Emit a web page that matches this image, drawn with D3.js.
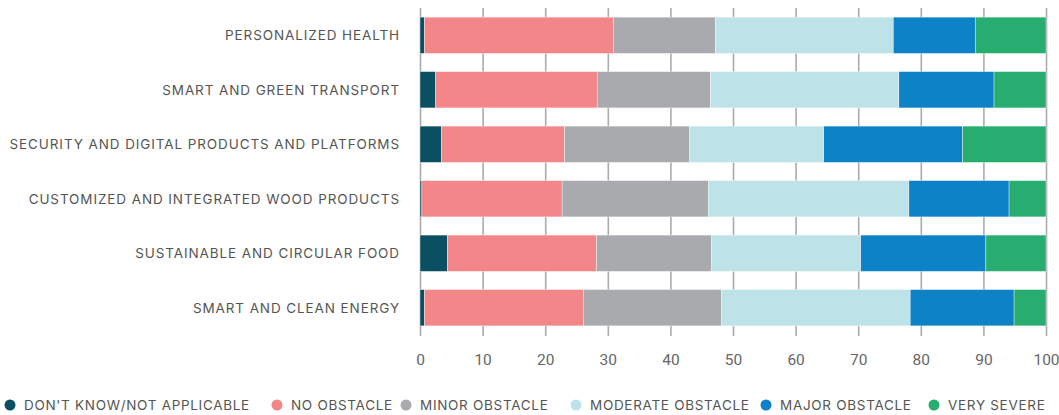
<!DOCTYPE html>
<html>
<head>
<meta charset="utf-8">
<script src="https://cdn.jsdelivr.net/npm/d3@7"></script>
<style>
  body { margin: 0; background: #fff; }
  text { font-family: "Inter", "Roboto", "Liberation Sans", sans-serif; }
</style>
</head>
<body>
<div id="chart"></div>
<script>
var categories = ["PERSONALIZED HEALTH", "SMART AND GREEN TRANSPORT", "SECURITY AND DIGITAL PRODUCTS AND PLATFORMS",
	"CUSTOMIZED AND INTEGRATED WOOD PRODUCTS", "SUSTAINABLE AND CIRCULAR FOOD", "SMART AND CLEAN ENERGY"];
var seriesNames = ["DON'T KNOW/NOT APPLICABLE", "NO OBSTACLE", "MINOR OBSTACLE", "MODERATE OBSTACLE", "MAJOR OBSTACLE", "VERY SEVERE"];
var dontKnow = [0.7, 2.5, 3.4, 0.3, 4.4, 0.7];
var noObstacle = [30.2, 25.8, 19.7, 22.4, 23.8, 25.4];
var minorObstacle = [16.3, 18.1, 20.0, 23.4, 18.4, 22.1];
var moderateObstacle = [28.4, 30.1, 21.4, 32.0, 23.8, 30.1];
var majorObstacle = [13.1, 15.2, 22.2, 16.0, 20.0, 16.6];
var verySevere = [11.3, 8.3, 13.3, 5.9, 9.6, 5.1];
var xTicks = [0, 10, 20, 30, 40, 50, 60, 70, 80, 90, 100];
var colors = ["#0b4f63", "#f38689", "#a9aaad", "#bde3e8", "#0d82c7", "#27ad6f"];

var width = 1059, height = 415;
var seriesValues = [dontKnow, noObstacle, minorObstacle, moderateObstacle, majorObstacle, verySevere];

var rows = categories.map(function(c, i){
	var r = {cat: c};
	seriesNames.forEach(function(s, j){ r[s] = seriesValues[j][i]; });
	return r;
});
var stacked = d3.stack().keys(seriesNames)(rows);

var x = d3.scaleLinear().domain([0, 100]).range([420, 1046]);
var y = d3.scaleBand().domain(categories).range([8, 335]).paddingInner(0.333).paddingOuter(0.167);
var color = d3.scaleOrdinal().domain(seriesNames).range(colors);

var svg = d3.select("#chart").append("svg")
	.attr("width", width)
	.attr("height", height);

//grid + x axis
var axisY = 336;
var xAxis = svg.append("g")
	.attr("transform", "translate(0," + axisY + ")")
	.call(d3.axisBottom(x).tickValues(xTicks).tickSize(-(axisY - 8)).tickPadding(18));
xAxis.select(".domain").remove();
xAxis.selectAll(".tick line").attr("stroke", "#ababab").attr("stroke-width", 1.6);
xAxis.selectAll(".tick text").attr("fill", "#666").style("font-size", "15.5px").style("font-family", "Roboto, sans-serif");

//bars
svg.append("g").selectAll("g")
	.data(stacked)
	.enter().append("g")
		.attr("fill", function(d){ return color(d.key); })
	.selectAll("rect")
	.data(function(d){ return d; })
	.enter().append("rect")
		.attr("x", function(d){ return x(d[0]); })
		.attr("width", function(d){ return x(d[1]) - x(d[0]); })
		.attr("y", function(d){ return y(d.data.cat); })
		.attr("height", y.bandwidth())
		.attr("stroke", "#fff")
		.attr("stroke-width", 0.4);

//category labels
svg.append("g").selectAll("text")
	.data(categories)
	.enter().append("text")
		.attr("x", 400)
		.attr("y", function(d){ return y(d) + y.bandwidth() / 2; })
		.attr("dy", "0.36em")
		.attr("text-anchor", "end")
		.attr("fill", "#555")
		.style("font-size", "13.5px")
		.style("letter-spacing", "0.9px")
		.text(function(d){ return d; });

//legend
var legendX = [10, 277, 406, 576, 766, 934];
var legend = svg.append("g").selectAll("g")
	.data(seriesNames)
	.enter().append("g")
		.attr("transform", function(d, i){ return "translate(" + legendX[i] + ",405)"; });
legend.append("circle")
	.attr("r", 5.5)
	.attr("fill", function(d){ return color(d); });
legend.append("text")
	.attr("x", 14)
	.attr("dy", "0.36em")
	.attr("fill", "#555")
	.style("font-size", "13.5px")
	.style("letter-spacing", "0.7px")
	.text(function(d){ return d; });
</script>
</body>
</html>
